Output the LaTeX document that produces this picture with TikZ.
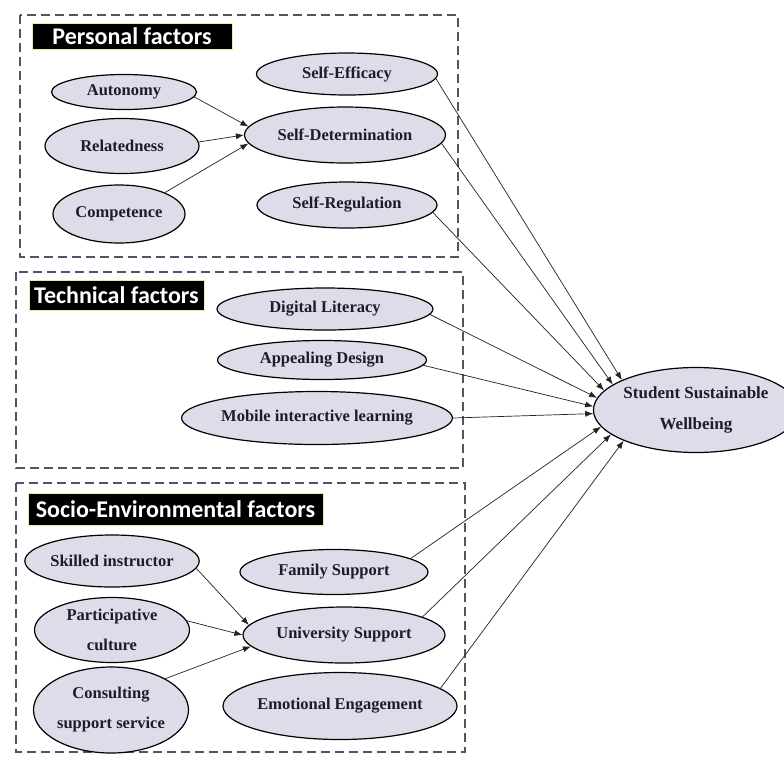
\documentclass[tikz,border=0pt]{standalone}
\usepackage{fontspec}
\setmainfont{Liberation Serif}
\newfontfamily\labelfont{Carlito}
\usetikzlibrary{shapes.geometric,arrows.meta}
\definecolor{elfill}{HTML}{DCDDE8}
\definecolor{txt}{HTML}{1C1C2A}
\definecolor{grpc}{HTML}{4E5566}
\definecolor{laby}{HTML}{EDEB9A}
\definecolor{linec}{HTML}{222222}
\begin{document}
\begin{tikzpicture}[x=1pt,y=-1pt,
  el/.style={ellipse,draw=black,line width=1.2pt,fill=elfill,inner sep=0pt,
    font=\bfseries\fontsize{16.5}{30}\selectfont,text=txt,align=center},
  grp/.style={draw=grpc,line width=1.4pt,dash pattern=on 9pt off 5pt},
  lab/.style={fill=black,draw=laby,line width=1pt,text=white,
    font=\labelfont\bfseries\fontsize{24}{24}\selectfont,inner sep=0pt},
  arr/.style={-{Latex[length=8pt,width=6pt]},line width=0.7pt,draw=linec},
]
\useasboundingbox (0,0) rectangle (784,756);
\fill[white] (0,0) rectangle (784,756);

% group frames
\draw[grp] (20,15) rectangle (458,257);
\draw[grp] (16,272) rectangle (463,468);
\draw[grp] (16,483) rectangle (465,752);

% group labels
\node[lab,minimum width=200pt,minimum height=26pt] (pf) at (132,36) {Personal factors};
\node[lab,minimum width=175pt,minimum height=30pt] (tf) at (116.5,295) {Technical factors};
\node[lab,minimum width=295pt,minimum height=32pt] (sf) at (175.5,509) {Socio-Environmental factors};

% personal
\node[el,minimum width=145pt,minimum height=35pt] (aut) at (124,92) {Autonomy};
\node[el,minimum width=154pt,minimum height=55pt] (rel) at (122,146) {Relatedness};
\node[el,minimum width=132pt,minimum height=58pt] (com) at (119,214) {Competence};
\node[el,minimum width=181pt,minimum height=42pt] (se) at (347,74) {Self-Efficacy};
\node[el,minimum width=201pt,minimum height=56pt] (sd) at (345,135) {Self-Determination};
\node[el,minimum width=180pt,minimum height=46pt] (sr) at (347,205) {Self-Regulation};

% technical
\node[el,minimum width=216pt,minimum height=42pt] (dl) at (325,309) {Digital Literacy};
\node[el,minimum width=209pt,minimum height=39pt] (ad) at (322,360) {Appealing Design};
\node[el,minimum width=227pt,minimum height=53pt] (mil) at (317,418) {Mobile interactive learning};

% socio-environmental
\node[el,minimum width=170pt,minimum height=52pt] (ski) at (112,561) {Skilled instructor};
\node[el,minimum width=155pt,minimum height=65pt] (par) at (112,630) {Participative\\culture};
\node[el,minimum width=155pt,minimum height=86pt] (con) at (111,710) {Consulting\\support service};
\node[el,minimum width=188pt,minimum height=45pt] (fs) at (334,572) {Family Support};
\node[el,minimum width=202pt,minimum height=56pt] (us) at (344,635) {University Support};
\node[el,minimum width=226pt,minimum height=67pt] (ee) at (340,706) {Emotional Engagement};

% outcome
\node[el,minimum width=175pt,minimum height=85pt,font=\bfseries\fontsize{17}{31}\selectfont] (ssw) at (696,410) {Student Sustainable\\Wellbeing};

% inner arrows
\draw[arr] (aut.-4) -- (sd.175);
\draw[arr] (rel.3) -- (sd.180);
\draw[arr] (com.25) -- (sd.185);
\draw[arr] (ski.-5) -- (us.174);
\draw[arr] (par.7) -- (us.180);
\draw[arr] (con.30) -- (us.187);

% arrows to outcome
\draw[arr] (se.-3) -- (ssw.158);
\draw[arr] (sd.-5) -- (ssw.163);
\draw[arr] (sr.-5) -- (ssw.168);
\draw[arr] (dl.-3) -- (ssw.173);
\draw[arr] (ad.-3) -- (ssw.178);
\draw[arr] (mil.east) -- (ssw.182);
\draw[arr] (fs.10) -- (ssw.190);
\draw[arr] (us.13) -- (ssw.196);
\draw[arr] (ee.10) -- (ssw.203);
\end{tikzpicture}
\end{document}
